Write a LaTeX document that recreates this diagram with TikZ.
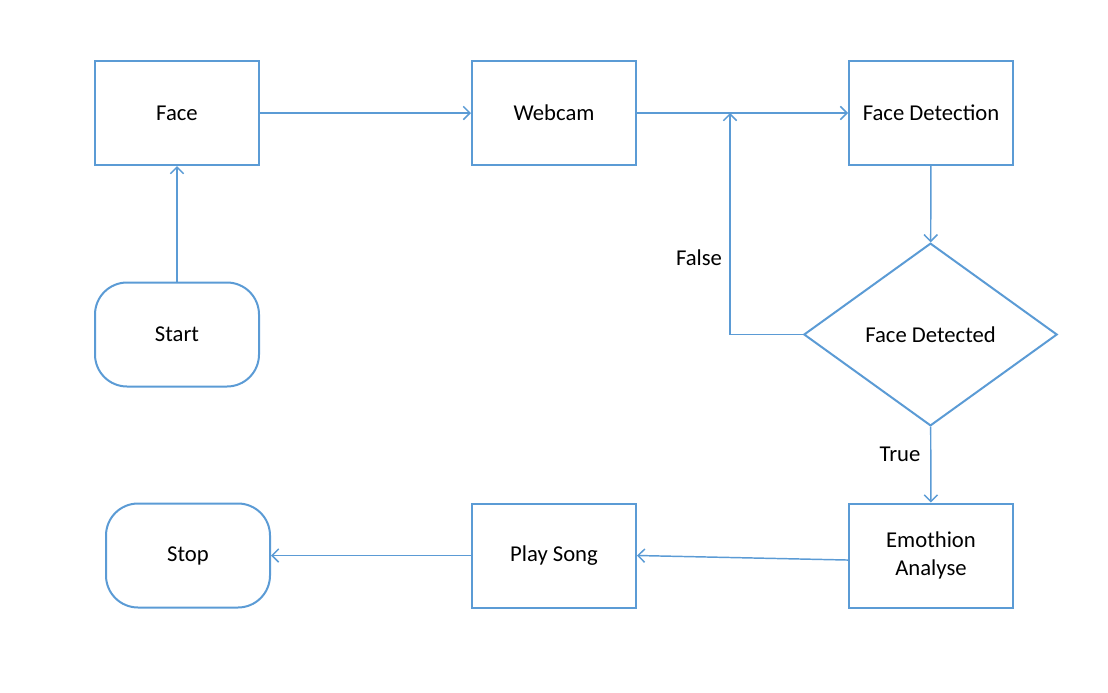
\documentclass[tikz,border=0pt]{standalone}
\usepackage{fontspec}
\setmainfont{Carlito}
\usetikzlibrary{positioning, arrows.meta, shapes.geometric}
\definecolor{flowblue}{HTML}{5B9BD5}
\tikzset{
  % Flow chart
  procbox/.style  = { draw=flowblue, line width=1.5pt, minimum width=123pt,
                       minimum height=78pt, align=center, font=\fontsize{17}{20.5}\selectfont },
  termbox/.style  = { procbox, rounded corners=24pt },
  decbox/.style   = { draw=flowblue, line width=1.5pt, diamond, minimum width=190pt,
                       minimum height=137pt, inner sep=1pt, font=\fontsize{17}{20.5}\selectfont },
  flowline/.style = { draw=flowblue, line width=1.1pt,
                       -{Straight Barb[length=5pt, width=10pt, line width=1.1pt]} },
  flowlabel/.style= { font=\fontsize{17}{20.5}\selectfont }
}
\begin{document}
\begin{tikzpicture}[x=0.75pt, y=-0.75pt]
  \useasboundingbox (0,0) rectangle (1108,693);

  \node[procbox] (face)    at (177,113)   {Face};
  \node[procbox] (webcam)  at (554,113)   {Webcam};
  \node[procbox] (facedet) at (931,113)   {Face Detection};
  \node[termbox] (start)   at (177,334.5) {Start};
  \node[decbox]  (decide)  at (930.5,334.5) {Face Detected};
  \node[procbox] (emotion) at (931,555.5) {Emothion\\Analyse};
  \node[procbox] (song)    at (554,555.5) {Play Song};
  \node[termbox] (stop)    at (188,555.5) {Stop};

  \coordinate (loopin) at (730,113);

  % --- main path ------------------------------------------------
  \draw[flowline] (start) -- (face);
  \draw[flowline] (face) -- (webcam);
  \draw[flowline] (webcam) -- (facedet);
  \draw[flowline] (facedet) -- (decide);

  % --- decision ---------------------------------------------------
  \draw[flowline] (decide.west) -| (loopin);
  \node[flowlabel] (falselbl) at (699,258) {False};
  \draw[flowline] (decide) -- (emotion);
  \node[flowlabel] (truelbl) at (900,454) {True};

  % --- result -------------------------------------------------------
  \draw[flowline] ([yshift=-3.4pt]emotion.west) -- (song.east);
  \draw[flowline] (song) -- (stop);

\end{tikzpicture}
\end{document}
